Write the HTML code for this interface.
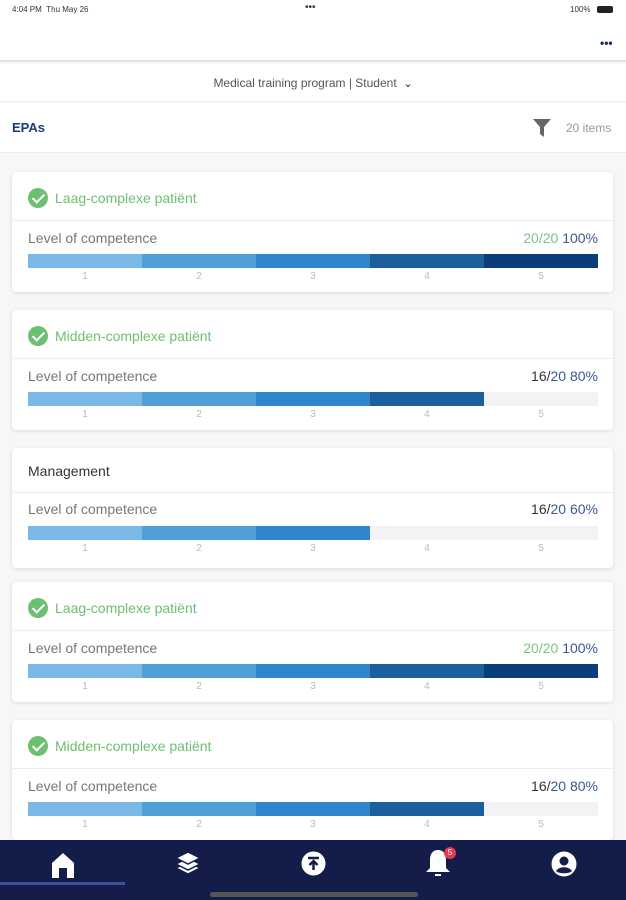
<!DOCTYPE html>
<html><head><meta charset="utf-8">
<style>
*{box-sizing:border-box;margin:0;padding:0}
body{width:626px;height:900px;overflow:hidden;background:#f7f7f8;font-family:"Liberation Sans",sans-serif;position:relative}
.abs{position:absolute}
.card{position:absolute;left:12px;width:601px;height:120px;background:#fff;border-radius:4px;box-shadow:0 1px 4px rgba(0,0,0,0.12)}
.title{position:absolute;left:16px;top:16px;font-size:14px;color:#6cc070;display:flex;align-items:center}
.title.plain{color:#333}
.chk{width:20px;height:20px;border-radius:50%;background:#6cc070;margin-right:7px;position:relative}
.chk:after{content:"";position:absolute;left:7px;top:3px;width:5px;height:10px;border:solid #fff;border-width:0 2px 2px 0;transform:rotate(45deg)}
.div{position:absolute;left:0;right:0;top:48px;border-top:1px solid #eee}
.lbl{position:absolute;left:16px;top:58px;font-size:14px;color:#777}
.val{position:absolute;right:15px;top:58px;font-size:14px;color:#333}
.bar{position:absolute;left:16px;top:82px;width:570px;height:14px;background:#f3f3f5}
.seg{position:absolute;top:0;height:14px}
.tick{position:absolute;top:99px;font-size:10px;color:#bbb;width:20px;text-align:center}
.card.p .title{top:15px}
.card.p .div{top:44px}
.card.p .lbl,.card.p .val{top:53px}
.card.p .bar{top:78px}
.card.p .tick{top:95px}
</style></head><body>
<div class="abs" style="left:0;top:0;width:626px;height:20px;background:#fff;font-size:8px;color:#333">
<span class="abs" style="left:12px;top:5px">4:04 PM&nbsp;&nbsp;Thu May 26</span>
<span class="abs" style="left:305px;top:2px;font-size:10px">•••</span>
<span class="abs" style="left:570px;top:5px">100%</span>
<span class="abs" style="left:597px;top:6px;width:16px;height:7px;background:#222;border-radius:2px"></span>
</div>
<div class="abs" style="left:0;top:20px;width:626px;height:42px;background:#fff;border-bottom:2px solid #e2e2e2"></div>
<div class="abs" style="left:600px;top:36px;color:#1a2f6e;font-size:12px;font-weight:bold">•••</div>
<div class="abs" style="left:0;top:64px;width:626px;height:38px;background:#fff;border-bottom:1px solid #eee;text-align:center;font-size:12px;color:#555;line-height:38px">Medical training program | Student &nbsp;<span style="font-size:11px;color:#222">&#8964;</span></div>
<div class="abs" style="left:0;top:103px;width:626px;height:50px;background:#fff;border-bottom:1px solid #eee">
<span class="abs" style="left:12px;top:17px;font-size:13px;font-weight:bold;color:#1a3c7a">EPAs</span>
<svg class="abs" style="left:533px;top:16px" width="18" height="18"><path d="M0 0H18L11 8V18L7 15V8Z" fill="#666"/></svg>
<span class="abs" style="left:566px;top:18px;font-size:12px;color:#999">20 items</span>
</div>
<div id="cards"></div>
<div class="abs" style="left:0;top:840px;width:626px;height:60px;background:#141c4a">
<svg class="abs" style="left:50px;top:12px" width="26" height="26"><path d="M2 26V11L13 1L24 11V26H17V16H9V26Z" fill="#fff"/></svg>
<div class="abs" style="left:0;top:42px;width:125px;height:3px;background:#3c4fa0"></div>
<svg class="abs" style="left:174px;top:10px" width="28" height="28"><g fill="#fff" stroke="#141c4a" stroke-width="1.5"><path d="M14 12L26 18L14 24L2 18Z"/><path d="M14 8L26 14L14 20L2 14Z"/><path d="M14 2L26 8L14 14L2 8Z"/></g></svg>
<svg class="abs" style="left:301px;top:11px" width="25" height="25"><circle cx="12.5" cy="12.5" r="12" fill="#fff"/><path d="M7 7H18M12.5 10V19M8.5 14L12.5 10L16.5 14" stroke="#141c4a" stroke-width="2.5" fill="none"/></svg>
<svg class="abs" style="left:424px;top:8px" width="28" height="32"><path d="M14 2C8 2 6 7 6 12V20L2 24H26L22 20V12C22 7 20 2 14 2Z M11 26H17V28H11Z" fill="#fff"/></svg>
<div class="abs" style="left:444px;top:7px;width:12px;height:12px;border-radius:50%;background:#e53950;color:#fff;font-size:8px;text-align:center;line-height:12px">5</div>
<svg class="abs" style="left:551px;top:11px" width="26" height="26"><circle cx="13" cy="13" r="12.5" fill="#fff"/><circle cx="13" cy="10" r="4.5" fill="#141c4a"/><path d="M5 20C8 15 18 15 21 20C18 23 8 23 5 20Z" fill="#141c4a"/></svg>
<div class="abs" style="left:210px;top:52px;width:208px;height:5px;border-radius:3px;background:#555"></div>
</div>
<script>
const titles=["Laag-complexe patiënt","Midden-complexe patiënt","Management","Laag-complexe patiënt","Midden-complexe patiënt"];
const completed=[true,true,false,true,true];
const levels=[5,4,3,5,4];
const scores=["20/20","16/20","16/20","20/20","16/20"];
const percents=["100%","80%","60%","100%","80%"];
const tickLabels=["1","2","3","4","5"];
const colors=["#7ab8e6","#4f9fd9","#2f86cc","#1b5f9e","#0a3d7a"];
const cardTops=[172,310,448,582,720];
const maxLevel=5,barW=570;
const x=v=>v*barW/maxLevel;
const root=document.getElementById('cards');
titles.forEach((t,i)=>{
  const c=document.createElement('div');c.className='card'+(completed[i]?'':' p');c.style.top=cardTops[i]+'px';
  
  
  const full=levels[i]===maxLevel;
  c.innerHTML=`<div class="title ${completed[i]?'':'plain'}">${completed[i]?'<span class="chk"></span>':''}${t}</div>
  <div class="div"></div>
  <div class="lbl">Level of competence</div>
  <div class="val"><span style="color:${full?'#7cc47f':'#333'}">${scores[i].split('/')[0]}/</span><span style="color:${full?'#7cc47f':'#3a5a8c'}">${scores[i].split('/')[1]}</span> <span style="color:#3a5a8c">${percents[i]}</span></div>`;
  const bar=document.createElement('div');bar.className='bar';
  
  
  for(let k=0;k<levels[i];k++){
    const s=document.createElement('div');s.className='seg';
    
    
    s.style.left=x(k)+'px';s.style.width=(x(k+1)-x(k))+'px';s.style.background=colors[k];
    bar.appendChild(s);
  }
  c.appendChild(bar);
  tickLabels.forEach((l,k)=>{
    const tk=document.createElement('div');tk.className='tick';
    
    
    tk.textContent=l;tk.style.left=(16+x(k+0.5)-10)+'px';c.appendChild(tk);
  });
  root.appendChild(c);
});
</script>
</body></html>
